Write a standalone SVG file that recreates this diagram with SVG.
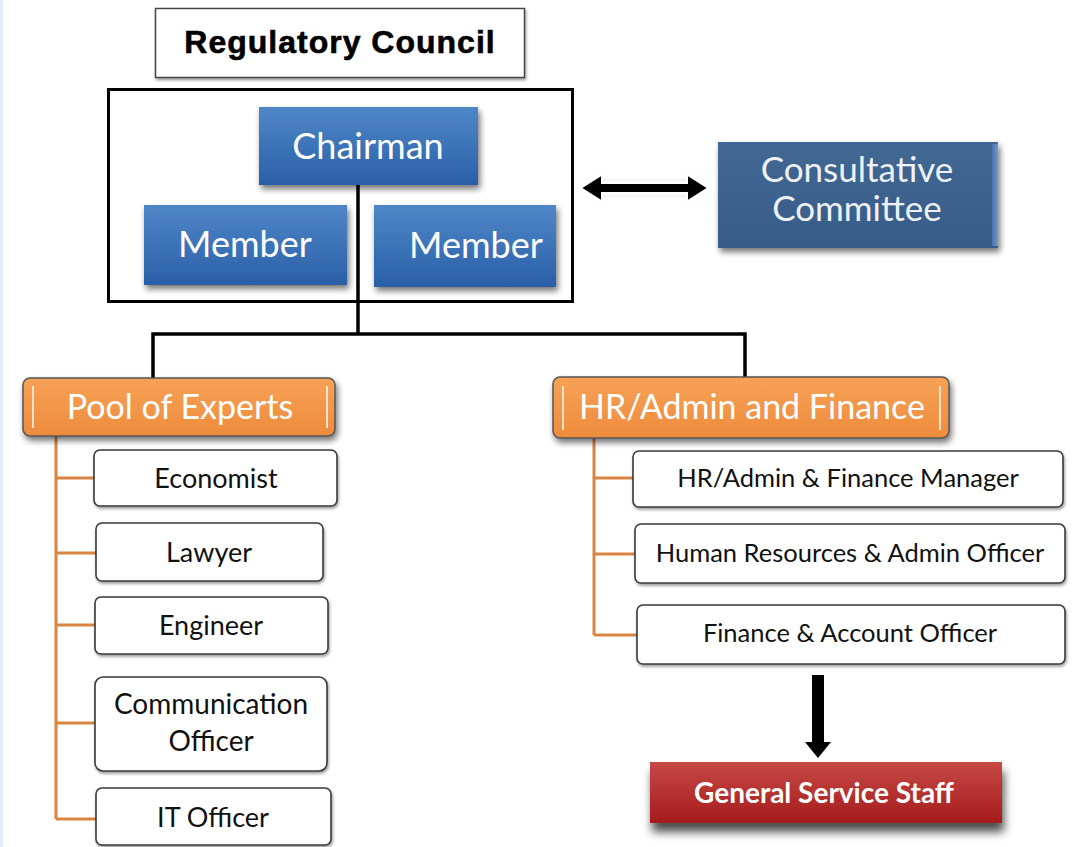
<svg xmlns="http://www.w3.org/2000/svg" width="1076" height="847" viewBox="0 0 1076 847">
<defs>
<linearGradient id="gBlue" x1="0" y1="0" x2="0" y2="1">
<stop offset="0" stop-color="#4f87c8"/><stop offset="1" stop-color="#2a5fa8"/>
</linearGradient>
<linearGradient id="gCons" x1="0" y1="0" x2="0" y2="1">
<stop offset="0" stop-color="#416894"/><stop offset="1" stop-color="#375c88"/>
</linearGradient>
<linearGradient id="gBevel" x1="0" y1="0" x2="1" y2="0">
<stop offset="0" stop-color="#4a73a6"/><stop offset="1" stop-color="#6f9bd0"/>
</linearGradient>
<linearGradient id="gOrange" x1="0" y1="0" x2="0" y2="1">
<stop offset="0" stop-color="#f7a257"/><stop offset="1" stop-color="#ee8b3c"/>
</linearGradient>
<linearGradient id="gRed" x1="0" y1="0" x2="0" y2="1">
<stop offset="0" stop-color="#c64845"/><stop offset="1" stop-color="#a51c1c"/>
</linearGradient>
<filter id="shadow" x="-10%" y="-20%" width="125%" height="160%">
<feGaussianBlur in="SourceAlpha" stdDeviation="3"/>
<feOffset dx="2" dy="4" result="b"/>
<feComponentTransfer><feFuncA type="linear" slope="0.55"/></feComponentTransfer>
<feMerge><feMergeNode/><feMergeNode in="SourceGraphic"/></feMerge>
</filter>
<filter id="shadowL" x="-10%" y="-30%" width="125%" height="190%">
<feGaussianBlur in="SourceAlpha" stdDeviation="5"/>
<feOffset dx="2" dy="9" result="b"/>
<feComponentTransfer><feFuncA type="linear" slope="0.7"/></feComponentTransfer>
<feMerge><feMergeNode/><feMergeNode in="SourceGraphic"/></feMerge>
</filter>
<filter id="shadowS" x="-10%" y="-20%" width="125%" height="160%">
<feGaussianBlur in="SourceAlpha" stdDeviation="1.5"/>
<feOffset dx="1" dy="2" result="b"/>
<feComponentTransfer><feFuncA type="linear" slope="0.4"/></feComponentTransfer>
<feMerge><feMergeNode/><feMergeNode in="SourceGraphic"/></feMerge>
</filter>
<filter id="glow" x="-20%" y="-50%" width="140%" height="200%">
<feMorphology in="SourceAlpha" operator="dilate" radius="3" result="d"/>
<feFlood flood-color="#ffffff"/>
<feComposite in2="d" operator="in" result="w"/>
<feGaussianBlur in="SourceAlpha" stdDeviation="3" result="s"/>
<feComponentTransfer in="s" result="s2"><feFuncA type="linear" slope="0.35"/></feComponentTransfer>
<feMerge><feMergeNode in="s2"/><feMergeNode in="w"/><feMergeNode in="SourceGraphic"/></feMerge>
</filter>
</defs>
<style>
.cal{font-family:Lato,"Noto Sans","Liberation Sans",sans-serif}
.white{fill:#ffffff}
.blk{fill:#111111}
.box{fill:#ffffff;stroke:#3a3a3a;stroke-width:1.6}
.org{stroke:#d98440;stroke-width:3;fill:none}
.conn{stroke:#000000;stroke-width:3.5;fill:none}
.hl{stroke:#fde3c8;stroke-width:2}
</style>
<rect x="0" y="0" width="1076" height="847" fill="#ffffff"/>
<rect x="0" y="0" width="3" height="847" fill="#e3eefa"/>

<g id="regulatory-council">
<rect x="155.5" y="8.5" width="369" height="69" fill="#ffffff" stroke="#444" stroke-width="1.5" filter="url(#shadowS)"/>
<text x="340" y="53" text-anchor="middle" font-family="'Liberation Sans',Arial,sans-serif" font-weight="bold" font-size="32" letter-spacing="1" stroke="#000" stroke-width="0.6" fill="#000">Regulatory Council</text>
</g>

<g id="council-frame">
<rect x="108.5" y="89.5" width="464" height="212" fill="none" stroke="#000" stroke-width="3"/>
</g>

<g id="connectors">
<path class="conn" d="M358 185 V334 M153 380 V334 H745 V378"/>
<path class="org" d="M56 436 V819 M56 478 H94 M56 553 H96 M56 625 H95 M56 723 H95 M56 819 H96"/>
<path class="org" d="M594 438 V635 M594 478 H633 M594 554 H635 M594 635 H637"/>
<g filter="url(#glow)">
<path d="M582 188 L601 176 L601 184 L688 184 L688 176 L707 188 L688 200 L688 192 L601 192 L601 200 Z" fill="#000"/>
</g>
<path d="M812 675 H824 V742 H831 L818 758 L805 742 H812 Z" fill="#000"/>
</g>

<g id="chairman">
<rect x="259" y="107" width="219" height="78" fill="url(#gBlue)" filter="url(#shadow)"/>
<text x="368" y="159" text-anchor="middle" class="cal white" font-size="36">Chairman</text>
</g>
<g id="member-left">
<rect x="144" y="205" width="203" height="80" fill="url(#gBlue)" filter="url(#shadow)"/>
<text x="245" y="257" text-anchor="middle" class="cal white" font-size="36">Member</text>
</g>
<g id="member-right">
<rect x="374" y="205" width="182" height="82" fill="url(#gBlue)" filter="url(#shadow)"/>
<text x="476" y="258" text-anchor="middle" class="cal white" font-size="36">Member</text>
</g>

<g id="consultative-committee">
<rect x="718" y="142" width="280" height="106" fill="url(#gCons)" filter="url(#shadow)"/>
<rect x="992" y="144" width="6" height="102" fill="url(#gBevel)"/>
<text x="857" y="182" text-anchor="middle" class="cal" fill="#eef2f7" font-size="35">Consultative</text>
<text x="857" y="221" text-anchor="middle" class="cal" fill="#eef2f7" font-size="35">Committee</text>
</g>

<g id="pool-of-experts">
<rect x="23" y="378" width="312" height="58" rx="7" fill="url(#gOrange)" stroke="#555" stroke-width="1.5" filter="url(#shadow)"/>
<line class="hl" x1="33" y1="386" x2="33" y2="428"/>
<line class="hl" x1="327" y1="386" x2="327" y2="428"/>
<text x="180" y="419" text-anchor="middle" class="cal white" font-size="34">Pool of Experts</text>
</g>

<g id="hr-admin-finance">
<rect x="553" y="377" width="396" height="61" rx="7" fill="url(#gOrange)" stroke="#555" stroke-width="1.5" filter="url(#shadow)"/>
<line class="hl" x1="563" y1="386" x2="563" y2="430"/>
<line class="hl" x1="940" y1="386" x2="940" y2="430"/>
<text x="752" y="419" text-anchor="middle" class="cal white" font-size="34">HR/Admin and Finance</text>
</g>

<g id="economist">
<rect class="box" x="94" y="450" width="243" height="56" rx="6" filter="url(#shadowS)"/>
<text x="216" y="488" text-anchor="middle" class="cal blk" font-size="27">Economist</text>
</g>
<g id="lawyer">
<rect class="box" x="96" y="523" width="227" height="58" rx="6" filter="url(#shadowS)"/>
<text x="209" y="562" text-anchor="middle" class="cal blk" font-size="27">Lawyer</text>
</g>
<g id="engineer">
<rect class="box" x="95" y="597" width="233" height="57" rx="6" filter="url(#shadowS)"/>
<text x="211" y="635" text-anchor="middle" class="cal blk" font-size="27">Engineer</text>
</g>
<g id="communication-officer">
<rect class="box" x="95" y="677" width="232" height="94" rx="8" filter="url(#shadowS)"/>
<text x="211" y="714" text-anchor="middle" class="cal blk" font-size="28">Communication</text>
<text x="211" y="751" text-anchor="middle" class="cal blk" font-size="28">Officer</text>
</g>
<g id="it-officer">
<rect class="box" x="96" y="788" width="235" height="57" rx="6" filter="url(#shadowS)"/>
<text x="213" y="827" text-anchor="middle" class="cal blk" font-size="27">IT Officer</text>
</g>

<g id="hr-manager">
<rect class="box" x="633" y="451" width="430" height="56" rx="6" filter="url(#shadowS)"/>
<text x="848" y="487" text-anchor="middle" class="cal blk" font-size="25.5">HR/Admin &amp; Finance Manager</text>
</g>
<g id="hr-officer">
<rect class="box" x="635" y="524" width="430" height="59" rx="6" filter="url(#shadowS)"/>
<text x="850" y="562" text-anchor="middle" class="cal blk" font-size="25.5">Human Resources &amp; Admin Officer</text>
</g>
<g id="finance-officer">
<rect class="box" x="637" y="605" width="428" height="59" rx="6" filter="url(#shadowS)"/>
<text x="850" y="642" text-anchor="middle" class="cal blk" font-size="25.5">Finance &amp; Account Officer</text>
</g>

<g id="general-service-staff">
<rect x="650" y="762" width="352" height="61" fill="url(#gRed)" filter="url(#shadowL)"/>
<text x="824" y="803" text-anchor="middle" class="cal white" font-weight="bold" font-size="28">General Service Staff</text>
</g>
</svg>
